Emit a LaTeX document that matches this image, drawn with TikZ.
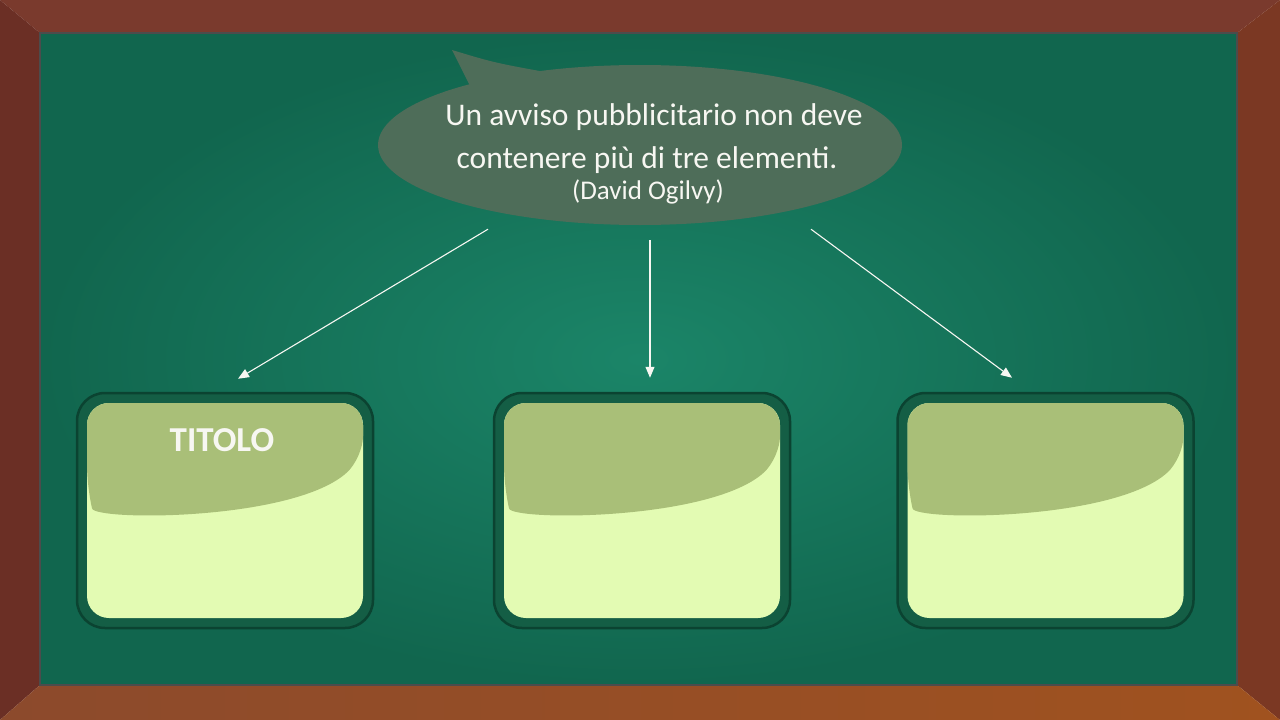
\documentclass[tikz,border=0pt]{standalone}
\usepackage{fontspec}
\setmainfont{Carlito}
\usetikzlibrary{arrows.meta, positioning, shapes.geometric, calc}
\definecolor{woodtop}{HTML}{7A3A2D}
\definecolor{woodleft}{HTML}{6B2F25}
\definecolor{woodright}{HTML}{7B3823}
\definecolor{woodbotl}{HTML}{8C4A2C}
\definecolor{woodbotr}{HTML}{A0521F}
\definecolor{boardmid}{HTML}{1B8568}
\definecolor{boardedge}{HTML}{11664E}
\definecolor{bubblefill}{HTML}{4E6D59}
\definecolor{rimgreen}{HTML}{145E45}
\definecolor{rimdark}{HTML}{0B4331}
\definecolor{panelfill}{HTML}{E3FBB3}
\definecolor{bandgreen}{HTML}{A9BF78}
\definecolor{chalkwhite}{HTML}{F7F7F2}

\begin{document}
\begin{tikzpicture}[
  x=1pt, y=-1pt,
  every node/.style={font=\fontsize{31.5}{44}\selectfont, text=chalkwhite},
  bubble/.style={ellipse, fill=bubblefill, minimum width=524pt, minimum height=160pt, inner sep=0pt},
  rim/.style={rectangle, rounded corners=28pt, fill=rimgreen, draw=rimdark, line width=2.5pt, minimum width=296pt, minimum height=235pt},
  panel/.style={rectangle, rounded corners=22pt, fill=panelfill, minimum width=276pt, minimum height=215pt,
    path picture={
      \fill[bandgreen] (path picture bounding box.north west)
        -- ([yshift=-84pt]path picture bounding box.north west)
        .. controls ([xshift=8pt,yshift=-118pt]path picture bounding box.north west)
        and ([xshift=-70pt,yshift=-118pt]path picture bounding box.north east)
        .. ([yshift=-55pt]path picture bounding box.north east)
        -- (path picture bounding box.north east) -- cycle;
    }},
  arrow/.style={-{Triangle[length=11pt, width=9pt]}, draw=chalkwhite, line width=1.1pt},
]
\useasboundingbox (0,0) rectangle (1280,720);

% Wooden frame
\fill[woodtop] (0,0) -- (1280,0) -- (1237,33) -- (40,33) -- cycle;
\fill[woodleft] (0,0) -- (40,33) -- (40,685) -- (0,720) -- cycle;
\fill[woodright] (1280,0) -- (1280,720) -- (1237,685) -- (1237,33) -- cycle;
\shade[left color=woodbotl, right color=woodbotr] (0,720) -- (40,685) -- (1237,685) -- (1280,720) -- cycle;

% Chalkboard
\shade[inner color=boardmid, outer color=boardedge] (40,33) rectangle (1237,685);
\draw[black!70, line width=2pt] (40,33) rectangle (1237,685);

% Speech bubble
\fill[bubblefill] (470,86) -- (452,50) .. controls (495,63) .. (562,75) -- cycle;
\node[bubble] (bubble) at (640,145) {};
\node[anchor=base] (line1) at (654,125) {Un avviso pubblicitario non deve};
\node[anchor=base] (line2) at (647,168) {contenere più di tre elementi.};
\node[anchor=base, font=\fontsize{27}{32}\selectfont] (author) at (648,199) {(David Ogilvy)};

% Boxes
\node[rim] (box1) at (225,510.5) {};
\node[panel] (panel1) at (225,510.5) {};
\node[rim] (box2) at (642,510.5) {};
\node[panel] (panel2) at (642,510.5) {};
\node[rim] (box3) at (1045.5,510.5) {};
\node[panel] (panel3) at (1045.5,510.5) {};

\node[font=\fontsize{35}{40}\selectfont\bfseries] (title1) at (222,440) {TITOLO};

% Arrows
\draw[arrow] ([xshift=-152pt, yshift=-4pt]bubble.south) -- ([xshift=13pt, yshift=13pt]box1.north);
\draw[arrow] ([xshift=10pt, yshift=-15pt]bubble.south) -- ([xshift=8pt, yshift=14pt]box2.north);
\draw[arrow] ([xshift=171pt, yshift=-4pt]bubble.south) -- ([xshift=-33.5pt, yshift=14pt]box3.north);

\end{tikzpicture}
\end{document}
